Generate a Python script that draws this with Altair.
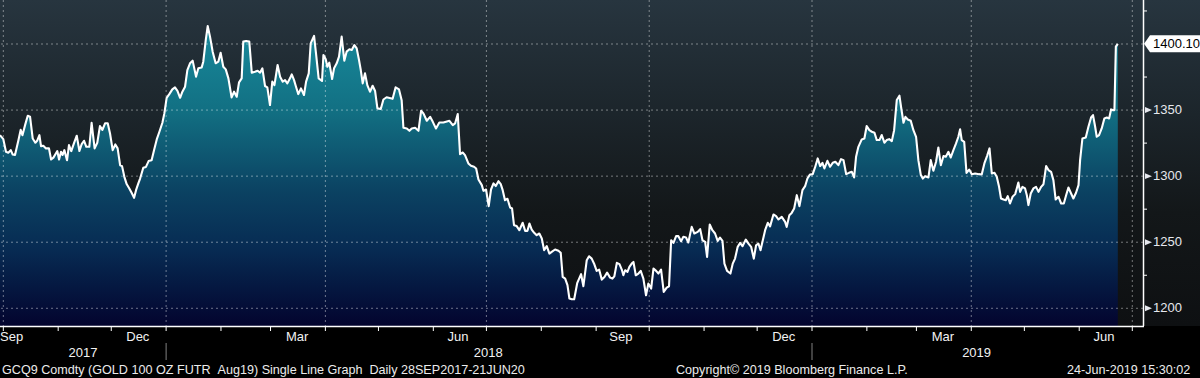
import altair as alt
import pandas as pd

FONT = "Liberation Sans"

# ---- data: days since 2017-10-01 and price ----
day_offsets = [
    -1.9, 0.0, 1.5, 2.8, 4.2, 5.3, 6.6, 8.5, 9.8, 10.8, 12.3, 13.8, 15.1, 16.6, 18.1, 19.2, 20.4, 21.3, 22.6, 24.1,
    25.8, 27.0, 28.3, 29.6, 30.5, 31.5, 32.6, 33.5, 34.5, 36.0, 37.1, 38.4, 39.9, 41.5, 43.0, 44.3, 45.6, 46.9, 48.6, 49.9,
    50.7, 51.6, 53.1, 54.6, 56.0, 57.5, 59.0, 60.3, 61.8, 63.3, 64.6, 66.0, 67.1, 68.4, 69.7, 71.2, 72.5, 73.9, 75.0, 76.3,
    77.3, 79.1, 80.6, 82.1, 83.8, 85.2, 86.7, 88.2, 89.9, 91.0, 92.3, 93.8, 95.5, 97.0, 98.4, 99.9, 101.2, 102.7, 104.0, 105.5,
    107.0, 108.9, 110.2, 112.1, 113.0, 114.4, 115.5, 116.8, 118.3, 120.0, 121.5, 122.8, 124.3, 125.7, 127.2, 129.0, 130.4, 131.9, 133.2, 134.7,
    135.6, 137.2, 139.0, 140.4, 142.2, 143.7, 145.1, 146.4, 147.9, 149.2, 150.7, 152.0, 153.2, 155.0, 156.4, 157.9, 159.2, 160.5, 162.0, 163.0,
    164.3, 165.4, 166.7, 168.2, 169.9, 171.1, 172.6, 173.7, 175.6, 176.7, 178.2, 180.1, 180.9, 182.2, 183.1, 184.2, 185.8, 186.9, 188.4, 189.7,
    191.2, 192.7, 194.0, 195.6, 196.9, 198.4, 199.7, 201.0, 202.0, 203.1, 204.4, 205.7, 207.2, 208.7, 210.1, 211.4, 213.3, 214.8, 216.6, 220.0,
    221.7, 223.6, 225.1, 226.1, 228.0, 229.5, 230.8, 232.7, 234.6, 236.1, 237.4, 239.3, 241.2, 242.7, 244.5, 246.4, 248.7, 252.1, 254.0, 255.3,
    256.8, 258.1, 259.6, 260.9, 262.8, 264.3, 266.0, 267.2, 268.5, 270.4, 271.3, 272.8, 274.3, 275.6, 277.0, 278.3, 279.8, 281.1, 282.2, 283.5,
    284.9, 286.4, 287.5, 288.6, 290.1, 291.6, 293.5, 294.9, 296.2, 297.3, 298.6, 300.0, 301.4, 302.9, 304.3, 305.6, 307.1, 308.6, 309.9, 311.8,
    313.7, 315.0, 316.1, 317.5, 318.8, 319.9, 321.2, 322.6, 324.3, 326.5, 327.8, 329.7, 331.0, 332.5, 334.0, 335.3, 336.7, 338.2, 339.7, 341.2,
    342.9, 344.2, 345.3, 346.7, 348.2, 349.5, 350.4, 351.4, 352.7, 353.8, 355.1, 356.1, 357.4, 358.9, 360.2, 361.7, 363.2, 364.5, 366.1, 367.4,
    368.9, 370.2, 371.7, 373.2, 374.9, 376.2, 377.4, 378.7, 380.2, 381.5, 383.0, 384.3, 385.8, 387.1, 389.0, 390.5, 392.4, 393.8, 395.1, 396.6,
    397.7, 399.2, 400.7, 402.2, 403.7, 405.0, 406.4, 407.5, 409.0, 410.9, 412.2, 413.5, 415.0, 416.4, 417.7, 419.6, 421.1, 422.6, 424.1, 425.4,
    426.7, 427.9, 429.0, 430.5, 432.0, 433.3, 435.2, 436.7, 438.0, 439.9, 441.8, 442.7, 444.2, 445.5, 446.9, 448.4, 449.9, 451.6, 453.1, 454.4,
    455.9, 457.4, 458.7, 460.2, 461.6, 462.9, 464.0, 465.7, 467.2, 468.7, 470.2, 471.9, 473.4, 474.8, 476.3, 477.9, 479.5, 480.8, 481.9, 483.2,
    485.1, 486.6, 487.9, 489.4, 490.8, 492.3, 493.6, 495.1, 496.4, 497.9, 499.2, 500.6, 502.1, 503.4, 504.9, 506.4, 507.3, 508.7, 509.8, 511.1,
    512.8, 514.3, 515.8, 517.1, 518.5, 519.6, 520.9, 522.8, 524.1, 525.6, 527.1, 528.4, 529.8, 531.3, 532.6, 534.1, 535.4, 536.9, 538.4, 539.7,
    540.7, 541.6, 543.0, 544.3, 545.8, 547.3, 549.2, 551.4, 552.9, 554.4, 555.9, 557.3, 558.6, 560.1, 561.4, 562.7, 563.8, 565.2, 566.5, 567.6,
    568.9, 570.3, 571.8, 572.7, 573.6, 574.6, 575.9, 577.4, 578.4, 579.3, 580.6, 582.1, 583.6, 585.0, 586.5, 587.8, 589.3, 590.6, 592.1, 593.4,
    594.7, 596.3, 597.8, 599.3, 600.6, 601.9, 603.4, 604.7, 606.2, 607.6, 608.5, 609.8, 611.7, 613.2, 614.7, 615.8, 617.0, 617.9, 619.2, 620.7,
    622.2, 623.6, 624.9, 626.0, 626.9, 627.9, 628.7, 629.8,
]
prices = [
    1331, 1328, 1318.4, 1317.7, 1319.7, 1316.4, 1316, 1327, 1335, 1331, 1338.6, 1345.7, 1345, 1328.5, 1325.3, 1327, 1331, 1322.7, 1323, 1321,
    1321, 1312.6, 1314, 1317, 1319, 1312.6, 1318.4, 1316, 1319.7, 1312, 1323.5, 1319, 1324.8, 1330.6, 1319, 1324.3, 1326.8, 1322.2, 1322.2, 1340.4,
    1331, 1321, 1325.3, 1337.9, 1335, 1340, 1340, 1332.3, 1319.7, 1324, 1321, 1308.3, 1307.6, 1299.5, 1294, 1290.7, 1287.4, 1283.6, 1289.4, 1294.5,
    1298.2, 1306.3, 1307, 1311.4, 1312, 1319.7, 1327.8, 1333.6, 1340.4, 1347.5, 1359.3, 1362.1, 1365.7, 1367.2, 1364.6, 1359.3, 1363.9, 1367.7, 1380.3, 1385.4,
    1387.4, 1375.3, 1381.6, 1382.3, 1386.6, 1403, 1413.6, 1405.6, 1394.2, 1385.4, 1386.6, 1393.4, 1382.8, 1380.8, 1374, 1359.6, 1363.9, 1360.1, 1371, 1374,
    1401.8, 1402.3, 1401.8, 1378.3, 1379, 1379.8, 1378.3, 1381.6, 1368.2, 1367.2, 1353.8, 1371.5, 1368.9, 1384.1, 1375.3, 1371.5, 1372.7, 1370.2, 1374, 1377,
    1372.7, 1367.7, 1362.1, 1366.4, 1361.4, 1371.5, 1377.8, 1400.5, 1406.1, 1392.9, 1374, 1372, 1391.7, 1388.4, 1382.8, 1385.9, 1373.5, 1381.6, 1385.4, 1390.4,
    1405.6, 1387.4, 1394.2, 1396, 1395.5, 1399.2, 1396.7, 1387.9, 1380.3, 1370.2, 1377.8, 1368.9, 1363.9, 1368.4, 1364.4, 1351.3, 1350.8, 1358, 1359.7, 1358.5,
    1367.2, 1365.6, 1357.5, 1336.6, 1336.1, 1334.3, 1336.1, 1336.6, 1334.3, 1349.5, 1347.5, 1341.9, 1344.9, 1341.1, 1336.1, 1340.6, 1340.6, 1341.9, 1338.6, 1339.9,
    1347, 1316.6, 1317.9, 1315.9, 1309.6, 1307.8, 1307.1, 1305.8, 1297.5, 1293.2, 1288.9, 1289.9, 1277.3, 1289.9, 1294.5, 1292.5, 1296.2, 1294, 1289.4, 1281.8,
    1282.9, 1276.3, 1275.5, 1262.9, 1262.2, 1259.1, 1264.7, 1258.6, 1258.6, 1264.2, 1259.6, 1257.1, 1255.3, 1256.6, 1252.8, 1244, 1247, 1241.4, 1242.7, 1244.5,
    1243.5, 1242, 1223.8, 1222.5, 1217.5, 1207.4, 1206.8, 1206.8, 1219, 1225.8, 1216.7, 1236.4, 1239.4, 1237.6, 1233.3, 1228.3, 1229.3, 1221.7, 1223.7, 1227,
    1223.2, 1222.5, 1224.2, 1234.4, 1233.4, 1229.3, 1225, 1228.8, 1227.6, 1231.3, 1233.8, 1235.1, 1225, 1226.3, 1228.3, 1222.5, 1209.9, 1218.7, 1214.9, 1230.1,
    1228.3, 1226.3, 1229.3, 1212.4, 1215.7, 1216.7, 1251.5, 1249.5, 1254.6, 1254.6, 1250.8, 1254.1, 1253.6, 1249.8, 1261.6, 1256.6, 1257.8, 1259.9, 1251.5, 1250.3,
    1238.9, 1263.4, 1259.1, 1256.6, 1251, 1253.5, 1251, 1233.8, 1228.3, 1226.3, 1233.8, 1237.6, 1246.5, 1249.5, 1247, 1252, 1249, 1246.5, 1237.6, 1247.7,
    1249, 1244, 1250.3, 1259.1, 1264.7, 1262, 1271, 1269.7, 1267.2, 1269.2, 1265.4, 1261.6, 1270.5, 1272.2, 1275.5, 1285.6, 1277.3, 1289.4, 1292.4, 1298.2,
    1301.3, 1301.5, 1306.6, 1313.4, 1307.6, 1310.1, 1305.8, 1311.6, 1307.1, 1310.1, 1310.9, 1308.3, 1312.9, 1312.1, 1301.5, 1302.5, 1303.3, 1299, 1314.7, 1322.2,
    1327.8, 1328.5, 1337.9, 1334.8, 1333.6, 1332.8, 1327.3, 1327.3, 1331.1, 1325.3, 1327.3, 1328, 1326.5, 1334.8, 1357.6, 1360.9, 1352.5, 1340.4, 1344.9, 1342.9,
    1341.9, 1334.8, 1329.8, 1312.1, 1300.8, 1298.2, 1300, 1299, 1312.1, 1304.1, 1310.9, 1321.7, 1308.3, 1315.2, 1314.7, 1318.4, 1314.1, 1319.7, 1324.8, 1329.8,
    1335.4, 1327.3, 1326, 1302.5, 1305, 1301.5, 1302, 1301.5, 1301.3, 1309.6, 1315.2, 1321, 1302, 1302.5, 1299.5, 1291.9, 1283.1, 1282.3, 1281.8, 1284.9,
    1279.3, 1284.4, 1286.4, 1290.7, 1295.2, 1288.1, 1291.9, 1290.7, 1285.6, 1278.1, 1286.9, 1290.7, 1291.9, 1288.1, 1291.9, 1293.9, 1307.6, 1304.6, 1303.3, 1297,
    1282.3, 1284.4, 1279.3, 1279.3, 1285.6, 1291.4, 1286.9, 1283.1, 1287.4, 1293.2, 1312.1, 1328.5, 1329.3, 1337.4, 1344.4, 1346.2, 1337.4, 1329.8, 1331.1, 1336.1,
    1343.7, 1344.4, 1343.7, 1350.5, 1350, 1350, 1398, 1400.1,
]

y_min, y_max = 1186.6, 1433.3
y_minor = [1225, 1275, 1325, 1375, 1425]
y_labels = [1200, 1250, 1300, 1350]
y_grid = [1200, 1250, 1300, 1350, 1400]
month_starts = (["2017-%02d-01" % m for m in (10, 11, 12)] + ["2018-%02d-01" % m for m in range(1, 13)]
                + ["2019-%02d-01" % m for m in range(1, 8)])
quarter_dates = ["2017-10-01", "2018-01-01", "2018-04-01", "2018-07-01", "2018-10-01",
                 "2019-01-01", "2019-04-01", "2019-07-01"]
month_label_text = ["Dec", "Mar", "Jun", "Sep", "Dec", "Mar", "Jun"]
month_label_dates = ["2017-12-16", "2018-03-16", "2018-06-15", "2018-09-15",
                     "2018-12-16", "2019-03-16", "2019-06-15"]
year_text = ["2017", "2018", "2019"]
year_dates = ["2017-11-15", "2018-07-02", "2019-04-04"]
year_sep_dates = ["2018-01-01", "2019-01-01"]

# double spaces kept with a no-break space so the SVG does not collapse them
footer_left = "GCQ9 Comdty (GOLD 100 OZ FUTR \u00a0Aug19) Single Line Graph \u00a0Daily 28SEP2017-21JUN20"
footer_mid = "Copyright\u00a9 2019 Bloomberg Finance L.P."
footer_right = "24-Jun-2019 15:30:02"

# ---- frames ----
base = pd.Timestamp("2017-10-01")
df = pd.DataFrame({"date": base + pd.to_timedelta(day_offsets, unit="D"), "price": prices})
last_df = pd.DataFrame({"v": [prices[-1]], "label": [f"{prices[-1]:.2f}"]})
one = alt.Data(values=[{"a": 1}])

xscale = alt.Scale(domain=[alt.DateTime(year=2017, month=9, date=29, hours=3),
                           alt.DateTime(year=2019, month=7, date=7, hours=1)], nice=False)
yscale = alt.Scale(domain=[y_min, y_max], zero=False, nice=False)

def X(field):
    return alt.X(field, scale=xscale, axis=None)

def Y(field):
    return alt.Y(field, scale=yscale, axis=None)

bg_grad = alt.Gradient(gradient="linear", x1=0, y1=0, x2=0, y2=1, stops=[
    alt.GradientStop(offset=0, color="#27353f"),
    alt.GradientStop(offset=0.35, color="#1c252b"),
    alt.GradientStop(offset=0.65, color="#131719"),
    alt.GradientStop(offset=1, color="#0e1012"),
])
area_grad = alt.Gradient(gradient="linear", x1=0, y1=0, x2=0, y2=1, stops=[
    alt.GradientStop(offset=0, color="#188a9c"),
    alt.GradientStop(offset=0.28, color="#127083"),
    alt.GradientStop(offset=0.55, color="#0b4262"),
    alt.GradientStop(offset=0.75, color="#072a52"),
    alt.GradientStop(offset=1, color="#03042e"),
])

bg = alt.Chart(one).mark_rect(fill=bg_grad).encode(
    x=alt.value(0), x2=alt.value(1200), y=alt.value(0), y2=alt.value(326))

area = alt.Chart(df).mark_area(fill=area_grad, opacity=1, clip=True).encode(
    x=X("date:T"), y=Y("price:Q"), y2=alt.datum(y_min))

grid_style = dict(color="white", opacity=0.42, strokeDash=[2, 3], strokeWidth=1)
hgrid = alt.Chart(pd.DataFrame({"v": y_grid})).mark_rule(**grid_style).encode(y=Y("v:Q"))
vgrid = alt.Chart(pd.DataFrame({"d": pd.to_datetime(quarter_dates)})).mark_rule(**grid_style).encode(x=X("d:T"))

line = alt.Chart(df).mark_line(color="white", strokeWidth=2.1, strokeJoin="round").encode(
    x=X("date:T"), y=Y("price:Q"))

# axes drawn by hand
right_domain = alt.Chart(one).mark_rule(color="white", strokeWidth=1.5).encode(
    x=alt.value(1143.5), y=alt.value(0), y2=alt.value(326))
bottom_domain = alt.Chart(one).mark_rule(color="white", strokeWidth=1.5).encode(
    x=alt.value(0), x2=alt.value(1144), y=alt.value(326.5))
month_ticks = alt.Chart(pd.DataFrame({"d": pd.to_datetime(month_starts)})).mark_rule(
    color="white", strokeWidth=1).encode(x=X("d:T"), y=alt.value(326), y2=alt.value(331))
minor_ticks = alt.Chart(pd.DataFrame({"v": y_minor})).mark_rule(
    color="white", strokeWidth=1).encode(y=Y("v:Q"), x=alt.value(1143), x2=alt.value(1147))
tri = alt.Chart(pd.DataFrame({"v": y_labels})).mark_point(
    shape="M-1,-0.85L1,0L-1,0.85Z", size=49, filled=True, color="#e6e8ee", opacity=1).encode(
    x=alt.value(1148.5), y=Y("v:Q"))
ylab = alt.Chart(pd.DataFrame({"v": y_labels})).mark_text(
    align="left", baseline="middle", font=FONT, fontSize=13, color="#e6e8ee").encode(
    x=alt.value(1153), y=Y("v:Q"), text=alt.Text("v:Q", format="d"))

tag = alt.Chart(last_df).mark_point(
    shape="M-3.29,0L-2.59,-1L3.53,-1L3.53,1L-2.59,1Z", size=289, filled=True,
    color="white", opacity=1).encode(x=alt.value(1172), y=Y("v:Q"))
tag_text = alt.Chart(last_df).mark_text(
    align="left", baseline="middle", font=FONT, fontSize=13, color="#000000").encode(
    x=alt.value(1153), y=Y("v:Q"), text="label:N")

txt_style = dict(baseline="alphabetic", font=FONT, fontSize=13, color="#f2f2f2")
months = alt.Chart(pd.DataFrame({"d": pd.to_datetime(month_label_dates), "t": month_label_text})).mark_text(
    align="center", **txt_style).encode(x=X("d:T"), y=alt.value(341), text="t:N")
first_month = alt.Chart(one).mark_text(text="Sep", align="left", **txt_style).encode(
    x=alt.value(0), y=alt.value(341))
years = alt.Chart(pd.DataFrame({"d": pd.to_datetime(year_dates), "t": year_text})).mark_text(
    align="center", **txt_style).encode(x=X("d:T"), y=alt.value(357), text="t:N")
seps = alt.Chart(pd.DataFrame({"d": pd.to_datetime(year_sep_dates)})).mark_rule(
    color="#808080", strokeWidth=1).encode(x=X("d:T"), y=alt.value(343), y2=alt.value(360))

def footer(txt, x):
    return alt.Chart(one).mark_text(text=txt, align="left", baseline="alphabetic",
                                    font=FONT, fontSize=12.6, color="#ececec").encode(
        x=alt.value(x), y=alt.value(374))

chart = alt.layer(
    bg, area, hgrid, vgrid, line, right_domain, bottom_domain, month_ticks, minor_ticks,
    tri, ylab, tag, tag_text, months, first_month, years, seps,
    footer(footer_left, 2), footer(footer_mid, 676), footer(footer_right, 1067),
).properties(
    width=1143, height=326,
    autosize=alt.AutoSizeParams(type="none"),
    padding={"left": 0, "top": 0, "right": 57, "bottom": 52},
    background="#000000",
).configure_view(strokeWidth=0)

chart.save("out.html", embed_options={"renderer": "svg", "actions": False})
